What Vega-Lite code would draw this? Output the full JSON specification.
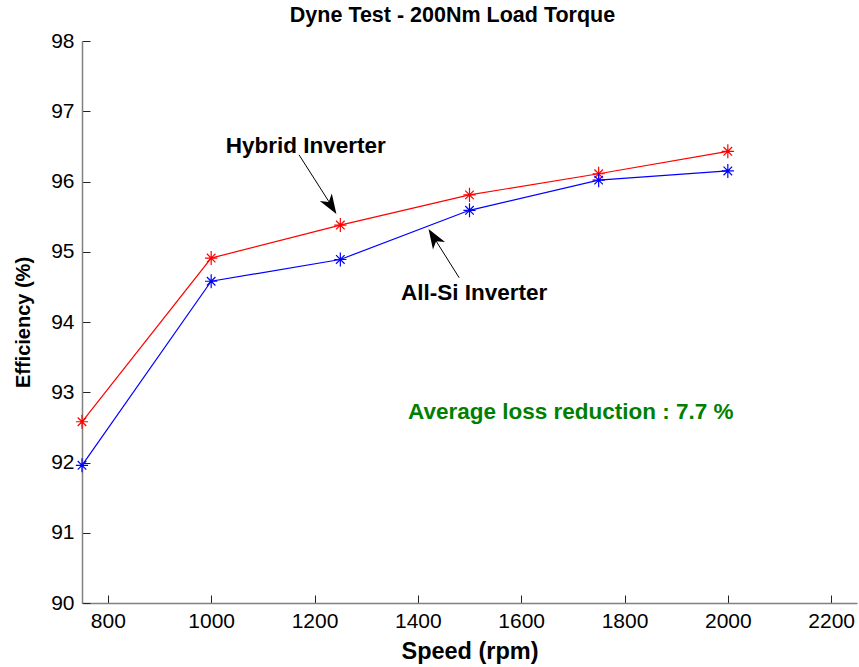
{
  "$schema": "https://vega.github.io/schema/vega-lite/v6.json",
  "width": 775,
  "height": 562,
  "autosize": "none",
  "padding": {"left": 82, "top": 41, "right": 2, "bottom": 64},
  "background": "white",
  "title": {
    "text": "Dyne Test - 200Nm Load Torque",
    "font": "Liberation Sans",
    "fontSize": 21.5,
    "fontWeight": "bold",
    "color": "black",
    "anchor": "middle",
    "dx": -17,
    "offset": 4
  },
  "config": {
    "view": {"stroke": null},
    "axis": {
      "labelFont": "Liberation Sans",
      "labelFontSize": 21,
      "labelColor": "black",
      "titleFont": "Liberation Sans",
      "titleFontWeight": "bold",
      "titleColor": "black",
      "domainColor": "#808080",
      "domainWidth": 1.5,
      "tickColor": "#222222",
      "tickWidth": 1,
      "tickSize": -8,
      "grid": false,
      "format": "d"
    }
  },
  "datasets": {
    "eff": [
      {"speed": 750, "eff": 92.58, "inverter": "Hybrid Inverter"},
      {"speed": 1000, "eff": 94.91, "inverter": "Hybrid Inverter"},
      {"speed": 1250, "eff": 95.38, "inverter": "Hybrid Inverter"},
      {"speed": 1500, "eff": 95.81, "inverter": "Hybrid Inverter"},
      {"speed": 1750, "eff": 96.11, "inverter": "Hybrid Inverter"},
      {"speed": 2000, "eff": 96.43, "inverter": "Hybrid Inverter"},
      {"speed": 750, "eff": 91.96, "inverter": "All-Si Inverter"},
      {"speed": 1000, "eff": 94.58, "inverter": "All-Si Inverter"},
      {"speed": 1250, "eff": 94.89, "inverter": "All-Si Inverter"},
      {"speed": 1500, "eff": 95.59, "inverter": "All-Si Inverter"},
      {"speed": 1750, "eff": 96.02, "inverter": "All-Si Inverter"},
      {"speed": 2000, "eff": 96.15, "inverter": "All-Si Inverter"}
    ],
    "arrows": [
      {"name": "Hybrid Inverter", "x": 1170, "y": 96.38, "x2": 1236, "y2": 95.62},
      {"name": "All-Si Inverter", "x": 1480, "y": 94.63, "x2": 1427, "y2": 95.25}
    ],
    "heads": [
      {"name": "Hybrid Inverter", "x": 1231, "y": 95.67},
      {"name": "All-Si Inverter", "x": 1432, "y": 95.19}
    ],
    "labels": [
      {"name": "Hybrid Inverter", "text": "Hybrid Inverter", "x": 1183, "y": 96.5},
      {"name": "All-Si Inverter", "text": "All-Si Inverter", "x": 1509, "y": 94.41}
    ],
    "note": [
      {"text": "Average loss reduction : 7.7 %", "x": 1696, "y": 92.72}
    ]
  },
  "layer": [
    {
      "data": {"name": "eff"},
      "mark": {"type": "line", "strokeWidth": 1.2},
      "encoding": {
        "x": {
          "field": "speed", "type": "quantitative",
          "scale": {"domain": [750, 2250], "nice": false, "zero": false},
          "axis": {"values": [800, 1000, 1200, 1400, 1600, 1800, 2000, 2200], "title": "Speed (rpm)", "titleFontSize": 23.5, "labelPadding": 15, "titlePadding": 8}
        },
        "y": {
          "field": "eff", "type": "quantitative",
          "scale": {"domain": [90, 98], "nice": false, "zero": false},
          "axis": {"values": [90, 91, 92, 93, 94, 95, 96, 97, 98], "title": "Efficiency (%)", "titleFontSize": 20, "labelPadding": 16, "titlePadding": 17}
        },
        "color": {
          "field": "inverter", "type": "nominal",
          "scale": {"domain": ["Hybrid Inverter", "All-Si Inverter"], "range": ["#ff0000", "#0000ff"]},
          "legend": null
        }
      }
    },
    {
      "data": {"name": "eff"},
      "mark": {
        "type": "point",
        "shape": "M-1,0L1,0M0,-1.15L0,1.15M-0.7,-0.7L0.7,0.7M-0.7,0.7L0.7,-0.7",
        "filled": false,
        "size": 150,
        "strokeWidth": 1.2,
        "opacity": 1
      },
      "encoding": {
        "x": {"field": "speed", "type": "quantitative"},
        "y": {"field": "eff", "type": "quantitative"},
        "color": {"field": "inverter", "type": "nominal", "legend": null}
      }
    },
    {
      "data": {"name": "arrows"},
      "mark": {"type": "rule", "color": "black", "strokeWidth": 1},
      "encoding": {
        "x": {"field": "x", "type": "quantitative"},
        "y": {"field": "y", "type": "quantitative"},
        "x2": {"field": "x2"},
        "y2": {"field": "y2"}
      }
    },
    {
      "data": {"name": "heads"},
      "transform": [{"filter": "datum.name === 'Hybrid Inverter'"}],
      "mark": {"type": "point", "shape": "M0,-1L0.65,0.8L0,0.3L-0.65,0.8Z", "filled": true, "color": "black", "size": 480, "angle": 147.5, "opacity": 1},
      "encoding": {
        "x": {"field": "x", "type": "quantitative"},
        "y": {"field": "y", "type": "quantitative"}
      }
    },
    {
      "data": {"name": "heads"},
      "transform": [{"filter": "datum.name === 'All-Si Inverter'"}],
      "mark": {"type": "point", "shape": "M0,-1L0.65,0.8L0,0.3L-0.65,0.8Z", "filled": true, "color": "black", "size": 480, "angle": -32, "opacity": 1},
      "encoding": {
        "x": {"field": "x", "type": "quantitative"},
        "y": {"field": "y", "type": "quantitative"}
      }
    },
    {
      "data": {"name": "labels"},
      "mark": {"type": "text", "font": "Liberation Sans", "fontSize": 22.5, "fontWeight": "bold", "color": "black", "align": "center", "baseline": "middle"},
      "encoding": {
        "x": {"field": "x", "type": "quantitative"},
        "y": {"field": "y", "type": "quantitative"},
        "text": {"field": "text"}
      }
    },
    {
      "data": {"name": "note"},
      "mark": {"type": "text", "font": "Liberation Sans", "fontSize": 22.5, "fontWeight": "bold", "color": "#008000", "align": "center", "baseline": "middle"},
      "encoding": {
        "x": {"field": "x", "type": "quantitative"},
        "y": {"field": "y", "type": "quantitative"},
        "text": {"field": "text"}
      }
    }
  ]
}
